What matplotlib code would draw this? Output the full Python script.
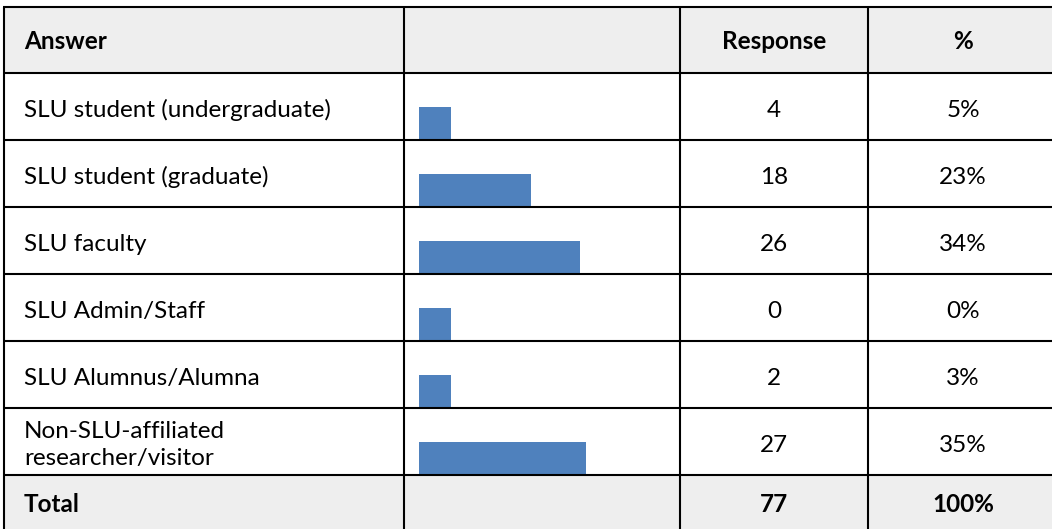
import matplotlib
matplotlib.use("Agg")
import matplotlib.pyplot as plt

# =========================
# DATA
# =========================
answers = [
    "SLU student (undergraduate)",
    "SLU student (graduate)",
    "SLU faculty",
    "SLU Admin/Staff",
    "SLU Alumnus/Alumna",
    "Non-SLU-affiliated\nresearcher/visitor",
]
responses = [4, 18, 26, 0, 2, 27]
percents = ["5%", "23%", "34%", "0%", "3%", "35%"]
total_response = "77"
total_percent = "100%"
headers = ["Answer", "", "Response", "%"]

# =========================
# LAYOUT (pixels)
# =========================
W, H = 1052, 529
col_x = [4, 404, 680, 868, 1058]
top = 7
header_h = 66
row_h = 67
bar_x0 = 419
bar_h = 33
px_per_unit = 6.2
min_bar = 32
FILL = "#eeeeee"
BAR = "#4f81bd"
LW = 1.5
FONT = "Lato"
FS = 17.5
line_gap = 27

fig = plt.figure(figsize=(W / 100, H / 100), dpi=100)
ax = fig.add_axes([0, 0, 1, 1])
ax.set_xlim(0, W)
ax.set_ylim(H, 0)
ax.axis("off")

row_top = [top] + [top + header_h + i * row_h for i in range(len(answers) + 1)]

# header / total fill
ax.fill_between([col_x[0], col_x[-1]], row_top[0], row_top[1], color=FILL, lw=0)
ax.fill_between([col_x[0], col_x[-1]], row_top[-1], H + 10, color=FILL, lw=0)

# grid lines
for y in row_top:
    ax.plot([col_x[0] - 1, col_x[-1]], [y, y], color="black", lw=LW, solid_capstyle="butt")
for x in col_x[:-1]:
    ax.plot([x, x], [top, H + 10], color="black", lw=LW, solid_capstyle="butt")


def cell_text(x, y, s, ha="center", bold=False):
    ax.text(x, y, s, fontsize=FS, family=FONT, fontweight="bold" if bold else "normal",
            va="baseline", ha=ha, color="black")


mid_resp = (col_x[2] + col_x[3]) / 2
mid_pct = (col_x[3] + col_x[4]) / 2

# header text
yh = row_top[0] + 42
cell_text(col_x[0] + 20, yh, headers[0], ha="left", bold=True)
cell_text(mid_resp, yh, headers[2], bold=True)
cell_text(mid_pct, yh, headers[3], bold=True)

# body rows
bar_w = [max(v * px_per_unit, min_bar) for v in responses]
bar_bottom = [row_top[i + 2] for i in range(len(answers))]
ax.barh(bar_bottom, bar_w, height=-bar_h, left=bar_x0, align="edge", color=BAR, lw=0)

for i, (a, r, p) in enumerate(zip(answers, responses, percents)):
    yb = row_top[i + 1] + 44
    lines = a.split("\n")
    n = len(lines)
    for k, line in enumerate(lines):
        cell_text(col_x[0] + 20, yb + (k - (n - 1) / 2) * line_gap, line, ha="left")
    cell_text(mid_resp, yb, str(r))
    cell_text(mid_pct, yb, p)

# total row
yt = row_top[-1] + 37
cell_text(col_x[0] + 20, yt, "Total", ha="left", bold=True)
cell_text(mid_resp, yt, total_response, bold=True)
cell_text(mid_pct, yt, total_percent, bold=True)

fig.savefig("out.png", dpi=100)
